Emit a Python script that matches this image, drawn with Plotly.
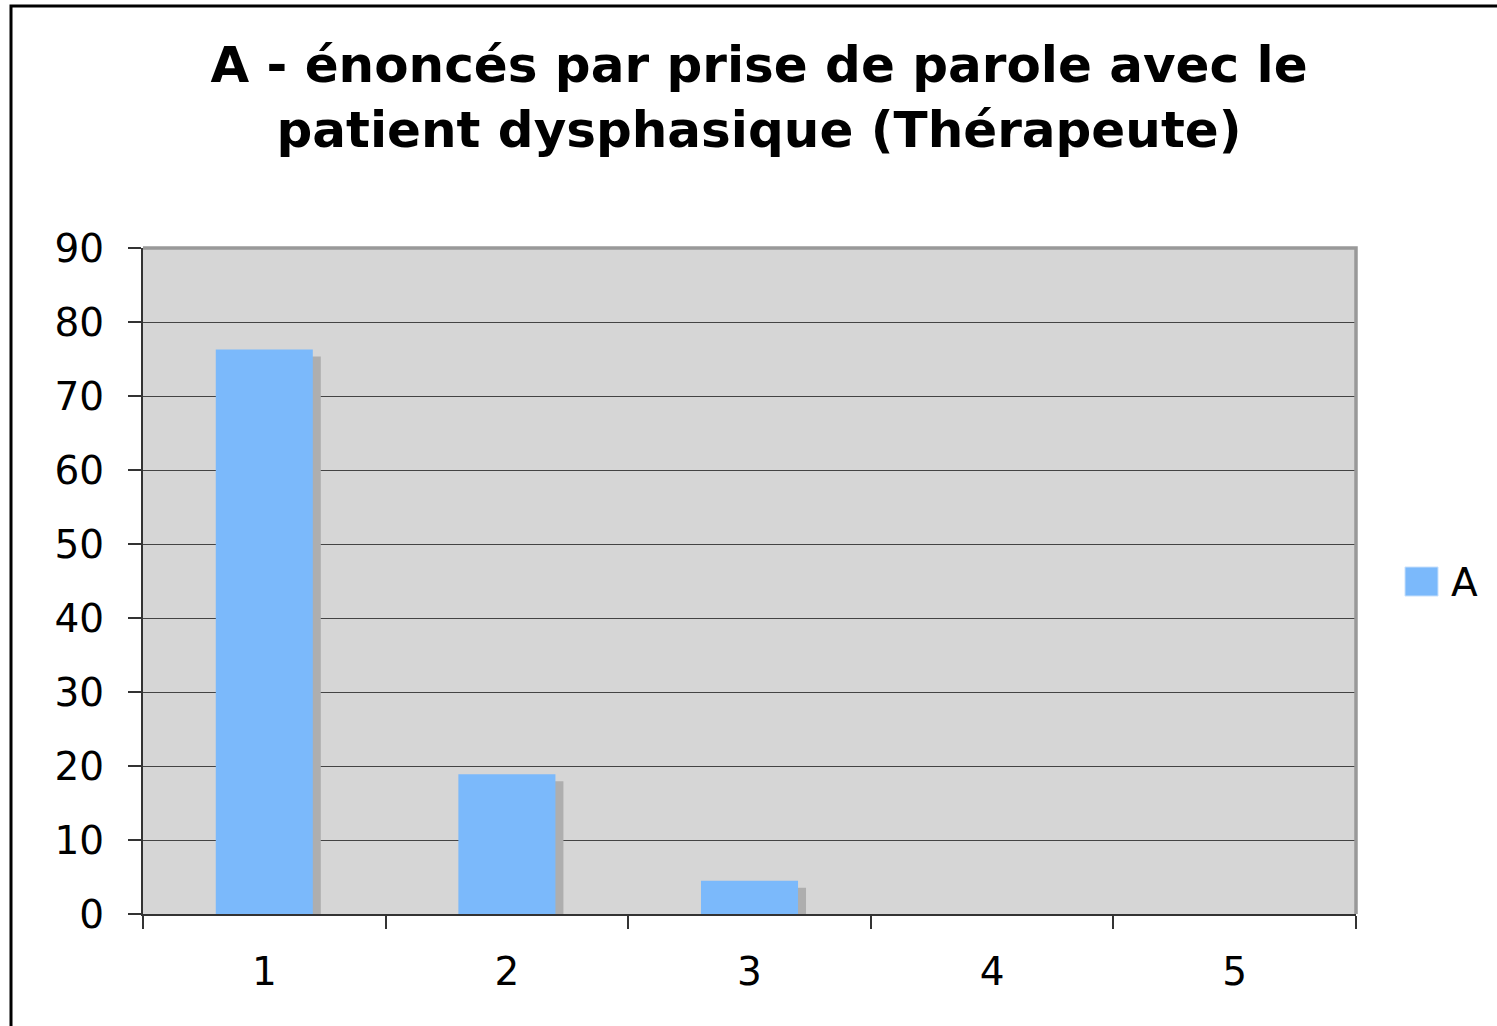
import plotly.graph_objects as go

categories = ["1", "2", "3", "4", "5"]
values_A = [76.3, 18.9, 4.5, 0, 0]
series_name = "A"
y_ticks = [0, 10, 20, 30, 40, 50, 60, 70, 80, 90]

BAR_COLOR = "#7BB9FB"
SHADOW_COLOR = "#AEAEAE"
W, H = 1497, 1026
L, R, T, B = 143, 141, 248, 112
pw, ph = W - L - R, H - T - B

shadow_dy = 7 / ph * 90  # shadow drop in data units
fig = go.Figure()
fig.add_trace(go.Bar(
    x=categories, y=[max(v - shadow_dy, 0) if v > 0 else 0 for v in values_A],
    width=0.4, offset=-0.2 + 8 / (pw / 5),
    marker=dict(color=SHADOW_COLOR, line=dict(width=0)),
    showlegend=False, hoverinfo="skip"))
fig.add_trace(go.Bar(
    x=categories, y=values_A, name=series_name,
    width=0.4, offset=-0.2,
    marker=dict(color=BAR_COLOR, line=dict(width=0)),
    showlegend=False))

font_family = "DejaVu Sans, Verdana, sans-serif"
TICK_SIZE = 39
fig.update_layout(
    width=W, height=H,
    margin=dict(l=L, r=R, t=T, b=B),
    paper_bgcolor="white", plot_bgcolor="#D6D6D6",
    barmode="overlay",
    font=dict(family=font_family, color="black"),
    title=dict(
        text="<b>A - énoncés par prise de parole avec le<br>patient dysphasique (Thérapeute)</b>",
        x=759 / W, xanchor="center", xref="container",
        y=1 - 82 / H, yanchor="top", yref="container",
        font=dict(size=50, family=font_family, color="black")),
    xaxis=dict(
        type="category", tickson="boundaries", ticks="outside", ticklen=13,
        tickcolor="#333333", tickwidth=1.5, showgrid=False,
        showline=True, linecolor="#333333", linewidth=2,
        tickfont=dict(size=TICK_SIZE, family=font_family, color="black"),
        ticklabelstandoff=22, range=[-0.5, 4.5]),
    yaxis=dict(
        range=[0, 90], tickvals=y_ticks, ticks="outside", ticklen=13,
        tickcolor="#333333", tickwidth=1.5,
        showgrid=True, gridcolor="#444444", gridwidth=1,
        showline=True, linecolor="#333333", linewidth=2, zeroline=False,
        tickfont=dict(size=TICK_SIZE, family=font_family, color="black"),
        ticklabelstandoff=16),
)

# gray plot frame on top and right
fig.add_shape(type="path", xref="paper", yref="paper",
              path="M 0,1 L 1,1 L 1,0", line=dict(color="#999999", width=3.5),
              layer="above")

# outer chart border
fig.add_shape(type="rect", xref="paper", yref="paper",
              x0=(11 - L) / pw, x1=(W + 20 - L) / pw,
              y0=-(H + 20 - (T + ph)) / ph, y1=1 + (T - 6) / ph,
              line=dict(color="black", width=3), layer="above")

# legend
fig.add_shape(type="rect", xref="paper", yref="paper",
              x0=(1405 - L) / pw, x1=(1438 - L) / pw,
              y0=(T + ph - 596) / ph, y1=(T + ph - 567) / ph,
              fillcolor=BAR_COLOR, line=dict(color="#C8E0FB", width=1))
fig.add_annotation(xref="paper", yref="paper",
                   x=(1449 - L) / pw, y=(T + ph - 582) / ph,
                   xanchor="left", yanchor="middle", showarrow=False,
                   text=series_name, font=dict(size=TICK_SIZE, family=font_family, color="black"))

fig.write_html("out.html", config={"displayModeBar": False},
               post_script="document.body.style.margin='0';document.body.style.overflow='hidden';")
